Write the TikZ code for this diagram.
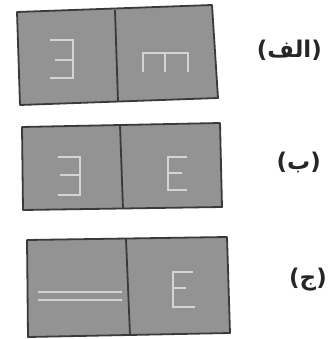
\documentclass[tikz,border=0pt]{standalone}
\usepackage{fontspec}
\newfontfamily\arabicfont[Script=Arabic]{DejaVu Sans}
\newfontfamily\parenfont{DejaVu Sans}
\TeXXeTstate=1
\definecolor{panelgray}{HTML}{939393}
\definecolor{edgegray}{HTML}{3A3A3A}
\definecolor{glyphgray}{HTML}{D4D4D4}
\tikzset{
  panel/.style={fill=panelgray, draw=edgegray, line width=1.8pt, line join=round},
  divider/.style={draw=edgegray, line width=1.8pt},
  glyph/.style={draw=glyphgray, line width=1.6pt},
  label/.style={font=\fontsize{23}{27}\selectfont\bfseries, text=black!85, inner sep=0pt}
}
\newcommand{\arlabel}[1]{{\parenfont(}{\arabicfont\beginR #1\endR}{\parenfont)}}
\begin{document}
\begin{tikzpicture}[x=1pt,y=-1pt]
\useasboundingbox (0,0) rectangle (328,339);
\fill[white] (0,0) rectangle (328,339);
% Row 1
\draw[panel] (17,12) -- (212,5) -- (218,98) -- (20,105) -- cycle;
\draw[divider] (115,10) -- (118,102);
\draw[glyph] (50,40) -- (73,40) -- (73,78) -- (50,78) (55,60) -- (73,60);
\draw[glyph] (143,72) -- (143,53) -- (188,53) -- (188,72) (165,53) -- (165,72);
\node[label, anchor=east] (la) at (322,50) {\arlabel{الف}};
% Row 2
\draw[panel] (22,127) -- (220,123) -- (222,207) -- (23,210) -- cycle;
\draw[divider] (120,125) -- (123,209);
\draw[glyph] (58,157) -- (80,157) -- (80,195) -- (58,195) (60,175) -- (80,175);
\draw[glyph] (187,157) -- (168,157) -- (168,190) -- (187,190) (168,173) -- (182,173);
\node[label, anchor=east] (lb) at (321,162) {\arlabel{ب}};
% Row 3
\draw[panel] (27,240) -- (227,237) -- (230,333) -- (28,337) -- cycle;
\draw[divider] (126,239) -- (130,335);
\draw[glyph] (38,292) -- (122,292) (38,300) -- (122,300);
\draw[glyph] (193,272) -- (173,272) -- (173,307) -- (195,307) (173,288) -- (186,288);
\node[label, anchor=east] (lc) at (327,280) {\arlabel{ج}};
\end{tikzpicture}
\end{document}
